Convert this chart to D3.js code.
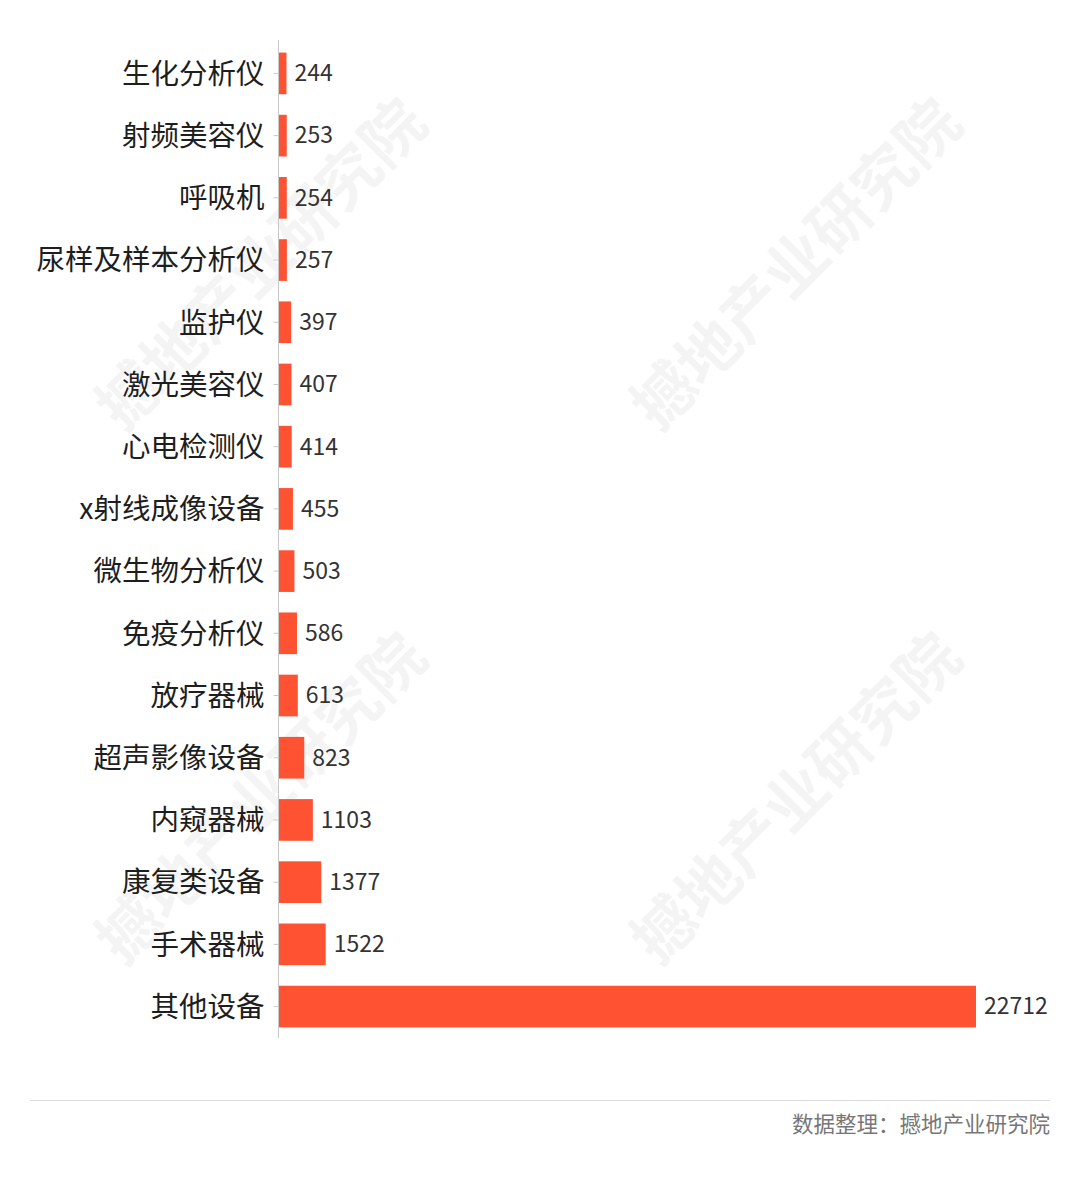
<!DOCTYPE html>
<html><head><meta charset="utf-8">
<script src="https://cdn.jsdelivr.net/npm/d3@7"></script>
<style>body{margin:0;background:#fff;}svg{display:block;}</style>
</head><body>
<svg id="c" width="1080" height="1179"></svg>
<script>
const categories = ["生化分析仪","射频美容仪","呼吸机","尿样及样本分析仪","监护仪","激光美容仪","心电检测仪","x射线成像设备","微生物分析仪","免疫分析仪","放疗器械","超声影像设备","内窥器械","康复类设备","手术器械","其他设备"];
const values = [244,253,254,257,397,407,414,455,503,586,613,823,1103,1377,1522,22712];
const sourceText = "数据整理：撼地产业研究院";
const watermark = "撼地产业研究院";

const svg = d3.select("#c");
const font = "'Noto Sans CJK SC','Noto Sans',sans-serif";
svg.append("rect").attr("width",1080).attr("height",1179).attr("fill","#fff");

const x0 = 279;
const x = d3.scaleLinear().domain([0, 22712]).range([x0, 976]);
const y = d3.scaleBand().domain(categories).range([42, 1038]).paddingInner(0.33).paddingOuter(0.17);

// watermarks
const wm = svg.append("g");
[[265,268],[800,268],[265,802],[800,802]].forEach(([cx,cy])=>{
  wm.append("text").attr("transform",`translate(${cx},${cy}) rotate(-45)`)
    .attr("text-anchor","middle").attr("dominant-baseline","middle")
    .attr("font-family",font).attr("font-size",62).attr("font-weight",700)
    .attr("fill","#000").attr("fill-opacity",0.045).text(watermark);
});

// bars
svg.append("g").selectAll("rect").data(values).join("rect")
  .attr("x", x0).attr("y",(d,i)=>y(categories[i]))
  .attr("width", d=>x(d)-x0).attr("height", y.bandwidth())
  .attr("fill","#FF5233");

// axis
const axis = svg.append("g").attr("transform",`translate(${x0-0.5},0)`)
  .call(d3.axisLeft(y).tickSize(5).tickPadding(9));
axis.select(".domain").attr("stroke","#c8c8c8").attr("d","M0,40V1038");
axis.selectAll(".tick line").attr("stroke","#c8c8c8");
axis.selectAll(".tick text").attr("font-family",font).attr("font-size",28.5).attr("font-weight",400)
  .attr("fill","#1e1e1e").attr("dy","0.36em");

// value labels
svg.append("g").selectAll("text").data(values).join("text")
  .attr("x", d=>x(d)+8).attr("y",(d,i)=>y(categories[i])+y.bandwidth()/2)
  .attr("dy","0.34em")
  .attr("font-family",font).attr("font-size",23).attr("fill","#333").text(d=>d);

// footer
svg.append("line").attr("x1",30).attr("x2",1050).attr("y1",1100.5).attr("y2",1100.5)
  .attr("stroke","#dcdcdc").attr("stroke-width",1);
svg.append("text").attr("x",1050).attr("y",1125).attr("text-anchor","end")
  .attr("dy","0.34em").attr("font-family",font).attr("font-size",21.5)
  .attr("fill","#777").text(sourceText);
</script>
</body></html>
